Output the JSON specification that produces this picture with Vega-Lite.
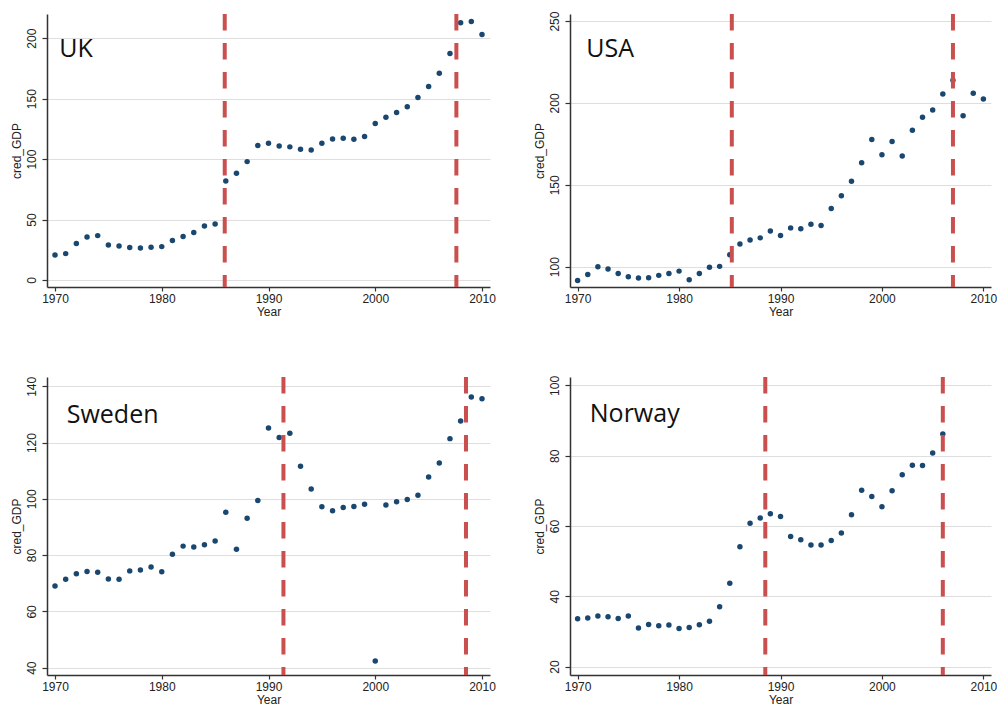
{
  "$schema": "https://vega.github.io/schema/vega-lite/v6.json",
  "background": "white",
  "padding": {"left": 9, "top": 11, "right": 0, "bottom": 0},
  "config": {
    "view": {"stroke": null},
    "font": "Liberation Sans",
    "axis": {
      "domainColor": "#333333", "domainWidth": 1.5, "tickColor": "#333333", "tickWidth": 1.2,
      "labelFont": "Liberation Sans", "labelFontSize": 12, "labelColor": "#222222",
      "titleFont": "Liberation Sans", "titleFontSize": 12, "titleFontWeight": "normal", "titleColor": "#222222"
    },
    "axisX": {"grid": false, "tickSize": 4, "labelPadding": 2, "titlePadding": 2, "labelFlush": false},
    "axisY": {"grid": true, "gridColor": "#dedede", "gridWidth": 1.2, "tickSize": 5, "labelAngle": -90, "labelPadding": 4, "titlePadding": 2}
  },
  "datasets": {
    "uk": [
      {"Year":1970,"cred_GDP":20.7},{"Year":1971,"cred_GDP":21.8},{"Year":1972,"cred_GDP":30.1},{"Year":1973,"cred_GDP":35.6},{"Year":1974,"cred_GDP":36.7},
      {"Year":1975,"cred_GDP":29.0},{"Year":1976,"cred_GDP":28.1},{"Year":1977,"cred_GDP":26.8},{"Year":1978,"cred_GDP":26.5},{"Year":1979,"cred_GDP":27.0},
      {"Year":1980,"cred_GDP":27.6},{"Year":1981,"cred_GDP":32.6},{"Year":1982,"cred_GDP":35.9},{"Year":1983,"cred_GDP":39.2},{"Year":1984,"cred_GDP":44.7},
      {"Year":1985,"cred_GDP":46.3},{"Year":1986,"cred_GDP":81.9},{"Year":1987,"cred_GDP":88.3},{"Year":1988,"cred_GDP":97.9},{"Year":1989,"cred_GDP":111.2},
      {"Year":1990,"cred_GDP":113.1},{"Year":1991,"cred_GDP":110.9},{"Year":1992,"cred_GDP":110.1},{"Year":1993,"cred_GDP":108.1},{"Year":1994,"cred_GDP":107.6},
      {"Year":1995,"cred_GDP":113.1},{"Year":1996,"cred_GDP":116.7},{"Year":1997,"cred_GDP":117.2},{"Year":1998,"cred_GDP":116.4},{"Year":1999,"cred_GDP":118.6},
      {"Year":2000,"cred_GDP":129.4},{"Year":2001,"cred_GDP":134.6},{"Year":2002,"cred_GDP":138.5},{"Year":2003,"cred_GDP":143.2},{"Year":2004,"cred_GDP":150.9},
      {"Year":2005,"cred_GDP":160.0},{"Year":2006,"cred_GDP":171.0},{"Year":2007,"cred_GDP":187.3},{"Year":2008,"cred_GDP":212.7},{"Year":2009,"cred_GDP":213.8},
      {"Year":2010,"cred_GDP":203.0}
    ],
    "usa": [
      {"Year":1970,"cred_GDP":91.6},{"Year":1971,"cred_GDP":95.3},{"Year":1972,"cred_GDP":100.0},{"Year":1973,"cred_GDP":98.6},{"Year":1974,"cred_GDP":95.9},
      {"Year":1975,"cred_GDP":93.9},{"Year":1976,"cred_GDP":93.1},{"Year":1977,"cred_GDP":93.3},{"Year":1978,"cred_GDP":94.7},{"Year":1979,"cred_GDP":95.9},
      {"Year":1980,"cred_GDP":97.3},{"Year":1981,"cred_GDP":92.0},{"Year":1982,"cred_GDP":95.9},{"Year":1983,"cred_GDP":99.6},{"Year":1984,"cred_GDP":100.2},
      {"Year":1985,"cred_GDP":107.3},{"Year":1986,"cred_GDP":113.9},{"Year":1987,"cred_GDP":116.3},{"Year":1988,"cred_GDP":117.6},{"Year":1989,"cred_GDP":121.8},
      {"Year":1990,"cred_GDP":119.0},{"Year":1991,"cred_GDP":123.7},{"Year":1992,"cred_GDP":123.1},{"Year":1993,"cred_GDP":125.9},{"Year":1994,"cred_GDP":125.1},
      {"Year":1995,"cred_GDP":135.5},{"Year":1996,"cred_GDP":143.3},{"Year":1997,"cred_GDP":152.2},{"Year":1998,"cred_GDP":163.5},{"Year":1999,"cred_GDP":177.6},
      {"Year":2000,"cred_GDP":168.4},{"Year":2001,"cred_GDP":176.5},{"Year":2002,"cred_GDP":167.6},{"Year":2003,"cred_GDP":183.3},{"Year":2004,"cred_GDP":191.2},
      {"Year":2005,"cred_GDP":195.7},{"Year":2006,"cred_GDP":205.5},{"Year":2007,"cred_GDP":213.9},{"Year":2008,"cred_GDP":192.2},{"Year":2009,"cred_GDP":205.9},
      {"Year":2010,"cred_GDP":202.4}
    ],
    "sweden": [
      {"Year":1970,"cred_GDP":69.0},{"Year":1971,"cred_GDP":71.4},{"Year":1972,"cred_GDP":73.4},{"Year":1973,"cred_GDP":74.2},{"Year":1974,"cred_GDP":73.9},
      {"Year":1975,"cred_GDP":71.5},{"Year":1976,"cred_GDP":71.4},{"Year":1977,"cred_GDP":74.4},{"Year":1978,"cred_GDP":74.7},{"Year":1979,"cred_GDP":75.8},
      {"Year":1980,"cred_GDP":74.1},{"Year":1981,"cred_GDP":80.3},{"Year":1982,"cred_GDP":83.2},{"Year":1983,"cred_GDP":82.9},{"Year":1984,"cred_GDP":83.7},
      {"Year":1985,"cred_GDP":85.0},{"Year":1986,"cred_GDP":95.2},{"Year":1987,"cred_GDP":82.1},{"Year":1988,"cred_GDP":93.1},{"Year":1989,"cred_GDP":99.4},
      {"Year":1990,"cred_GDP":125.2},{"Year":1991,"cred_GDP":121.8},{"Year":1992,"cred_GDP":123.3},{"Year":1993,"cred_GDP":111.6},{"Year":1994,"cred_GDP":103.5},
      {"Year":1995,"cred_GDP":97.2},{"Year":1996,"cred_GDP":95.8},{"Year":1997,"cred_GDP":96.9},{"Year":1998,"cred_GDP":97.3},{"Year":1999,"cred_GDP":98.1},
      {"Year":2000,"cred_GDP":42.4},{"Year":2001,"cred_GDP":97.8},{"Year":2002,"cred_GDP":99.0},{"Year":2003,"cred_GDP":99.8},{"Year":2004,"cred_GDP":101.3},
      {"Year":2005,"cred_GDP":107.8},{"Year":2006,"cred_GDP":112.7},{"Year":2007,"cred_GDP":121.4},{"Year":2008,"cred_GDP":127.7},{"Year":2009,"cred_GDP":136.2},
      {"Year":2010,"cred_GDP":135.6}
    ],
    "norway": [
      {"Year":1970,"cred_GDP":33.6},{"Year":1971,"cred_GDP":33.8},{"Year":1972,"cred_GDP":34.4},{"Year":1973,"cred_GDP":34.2},{"Year":1974,"cred_GDP":33.7},
      {"Year":1975,"cred_GDP":34.4},{"Year":1976,"cred_GDP":31.0},{"Year":1977,"cred_GDP":32.0},{"Year":1978,"cred_GDP":31.6},{"Year":1979,"cred_GDP":31.8},
      {"Year":1980,"cred_GDP":30.8},{"Year":1981,"cred_GDP":31.1},{"Year":1982,"cred_GDP":31.9},{"Year":1983,"cred_GDP":32.9},{"Year":1984,"cred_GDP":37.0},
      {"Year":1985,"cred_GDP":43.7},{"Year":1986,"cred_GDP":54.1},{"Year":1987,"cred_GDP":60.8},{"Year":1988,"cred_GDP":62.3},{"Year":1989,"cred_GDP":63.5},
      {"Year":1990,"cred_GDP":62.7},{"Year":1991,"cred_GDP":57.0},{"Year":1992,"cred_GDP":56.1},{"Year":1993,"cred_GDP":54.6},{"Year":1994,"cred_GDP":54.6},
      {"Year":1995,"cred_GDP":55.9},{"Year":1996,"cred_GDP":58.0},{"Year":1997,"cred_GDP":63.2},{"Year":1998,"cred_GDP":70.2},{"Year":1999,"cred_GDP":68.4},
      {"Year":2000,"cred_GDP":65.5},{"Year":2001,"cred_GDP":70.0},{"Year":2002,"cred_GDP":74.6},{"Year":2003,"cred_GDP":77.3},{"Year":2004,"cred_GDP":77.2},
      {"Year":2005,"cred_GDP":80.8},{"Year":2006,"cred_GDP":86.2}
    ],
    "uk_breaks": [{"Year": 1985.9}, {"Year": 2007.6}],
    "usa_breaks": [{"Year": 1985.2}, {"Year": 2007.0}],
    "sweden_breaks": [{"Year": 1991.4}, {"Year": 2008.5}],
    "norway_breaks": [{"Year": 1988.5}, {"Year": 2006.0}],
    "uk_label": [{"Year": 1970.4, "cred_GDP": 184.3, "label": "UK"}],
    "usa_label": [{"Year": 1970.86, "cred_GDP": 228, "label": "USA"}],
    "sweden_label": [{"Year": 1971.1, "cred_GDP": 126.8, "label": "Sweden"}],
    "norway_label": [{"Year": 1971.2, "cred_GDP": 89.5, "label": "Norway"}]
  },
  "bounds": "flush",
  "columns": 2,
  "spacing": {"row": 90, "column": 80},
  "concat": [
    {
      "width": 443, "height": 273,
      "encoding": {
        "x": {"field": "Year", "type": "quantitative", "scale": {"domain": [1969.25, 2010.75], "nice": false, "zero": false}, "axis": {"values": [1970, 1980, 1990, 2000, 2010], "format": "d", "title": "Year"}},
        "y": {"field": "cred_GDP", "type": "quantitative", "scale": {"domain": [-5.8, 220], "nice": false, "zero": false}, "axis": {"values": [0, 50, 100, 150, 200], "title": "cred_GDP"}}
      },
      "layer": [
        {"data": {"name": "uk"}, "mark": {"type": "circle", "size": 30, "opacity": 1, "color": "#1a476f"}},
        {"data": {"name": "uk_breaks"}, "mark": {"type": "rule", "color": "#c9504f", "strokeWidth": 4, "strokeDash": [16.5, 12.5]}, "encoding": {"y": null}},
        {"data": {"name": "uk_label"}, "mark": {"type": "text", "font": "Open Sans", "fontSize": 25, "align": "left", "baseline": "alphabetic", "color": "#111111"}, "encoding": {"text": {"field": "label"}}}
      ]
    },
    {
      "width": 421, "height": 273,
      "encoding": {
        "x": {"field": "Year", "type": "quantitative", "scale": {"domain": [1969.25, 2010.75], "nice": false, "zero": false}, "axis": {"values": [1970, 1980, 1990, 2000, 2010], "format": "d", "title": "Year"}},
        "y": {"field": "cred_GDP", "type": "quantitative", "scale": {"domain": [87.6, 254.3], "nice": false, "zero": false}, "axis": {"values": [100, 150, 200, 250], "title": "cred_GDP"}}
      },
      "layer": [
        {"data": {"name": "usa"}, "mark": {"type": "circle", "size": 30, "opacity": 1, "color": "#1a476f"}},
        {"data": {"name": "usa_breaks"}, "mark": {"type": "rule", "color": "#c9504f", "strokeWidth": 4, "strokeDash": [16.5, 12.5]}, "encoding": {"y": null}},
        {"data": {"name": "usa_label"}, "mark": {"type": "text", "font": "Open Sans", "fontSize": 25, "align": "left", "baseline": "alphabetic", "color": "#111111"}, "encoding": {"text": {"field": "label"}}}
      ]
    },
    {
      "width": 443, "height": 298,
      "encoding": {
        "x": {"field": "Year", "type": "quantitative", "scale": {"domain": [1969.25, 2010.75], "nice": false, "zero": false}, "axis": {"values": [1970, 1980, 1990, 2000, 2010], "format": "d", "title": "Year"}},
        "y": {"field": "cred_GDP", "type": "quantitative", "scale": {"domain": [37.4, 143.3], "nice": false, "zero": false}, "axis": {"values": [40, 60, 80, 100, 120, 140], "title": "cred_GDP"}}
      },
      "layer": [
        {"data": {"name": "sweden"}, "mark": {"type": "circle", "size": 30, "opacity": 1, "color": "#1a476f"}},
        {"data": {"name": "sweden_breaks"}, "mark": {"type": "rule", "color": "#c9504f", "strokeWidth": 4, "strokeDash": [16.5, 12.5]}, "encoding": {"y": null}},
        {"data": {"name": "sweden_label"}, "mark": {"type": "text", "font": "Open Sans", "fontSize": 25, "align": "left", "baseline": "alphabetic", "color": "#111111"}, "encoding": {"text": {"field": "label"}}}
      ]
    },
    {
      "width": 421, "height": 298,
      "encoding": {
        "x": {"field": "Year", "type": "quantitative", "scale": {"domain": [1969.25, 2010.75], "nice": false, "zero": false}, "axis": {"values": [1970, 1980, 1990, 2000, 2010], "format": "d", "title": "Year"}},
        "y": {"field": "cred_GDP", "type": "quantitative", "scale": {"domain": [17.6, 102.4], "nice": false, "zero": false}, "axis": {"values": [20, 40, 60, 80, 100], "title": "cred_GDP"}}
      },
      "layer": [
        {"data": {"name": "norway"}, "mark": {"type": "circle", "size": 30, "opacity": 1, "color": "#1a476f"}},
        {"data": {"name": "norway_breaks"}, "mark": {"type": "rule", "color": "#c9504f", "strokeWidth": 4, "strokeDash": [16.5, 12.5]}, "encoding": {"y": null}},
        {"data": {"name": "norway_label"}, "mark": {"type": "text", "font": "Open Sans", "fontSize": 25, "align": "left", "baseline": "alphabetic", "color": "#111111"}, "encoding": {"text": {"field": "label"}}}
      ]
    }
  ]
}
